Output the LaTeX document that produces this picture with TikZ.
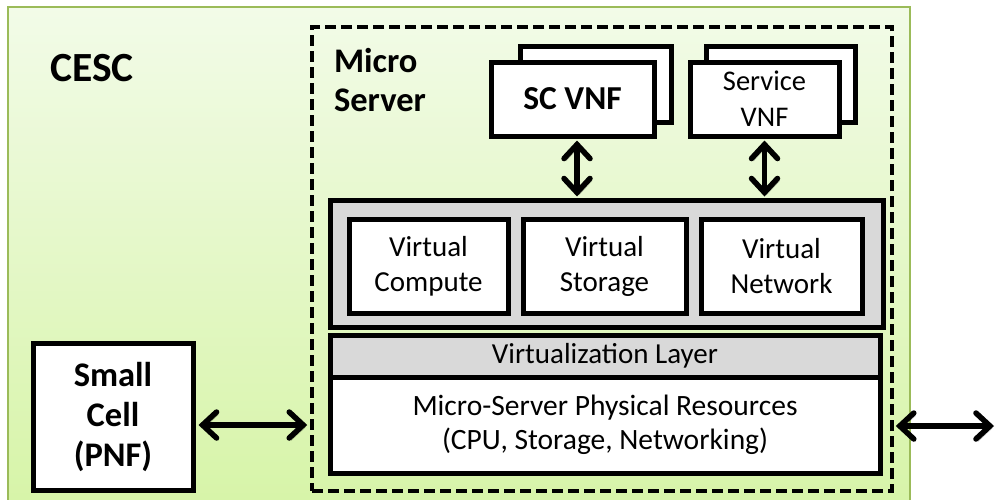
\documentclass[tikz,border=0pt]{standalone}
\usepackage{fontspec}
\setmainfont{Carlito}
\usetikzlibrary{arrows.meta}
\definecolor{gborder}{HTML}{9BBB59}
\definecolor{gtop}{HTML}{F2FBE8}
\definecolor{gbot}{HTML}{D6F4A6}
\definecolor{lgray}{HTML}{D9D9D9}
\tikzset{
  box/.style={draw=black, line width=5pt, fill=white, inner sep=0pt, align=center},
  graybox/.style={box, fill=lgray},
  dbl/.style={line width=5.5pt, {Straight Barb[length=14pt,width=26pt,line cap=round]}-{Straight Barb[length=14pt,width=26pt,line cap=round]}},
  shadowed/.style={preaction={draw=black, opacity=0.25, transform canvas={shift={(2pt,-2.5pt)}}}},
  big/.style={font=\fontsize{29}{35}\selectfont},
}
\begin{document}
\begin{tikzpicture}[x=1pt,y=-1pt]
\useasboundingbox (0,0) rectangle (995,499);
\begin{scope}
\clip (0,0) rectangle (995,499);
\shade[top color=gtop, bottom color=gbot, draw=gborder, line width=2.5pt] (8,7) rectangle (910,520);
\end{scope}
\node[draw=black, line width=3.5pt, dash pattern=on 11pt off 5pt, minimum width=580pt, minimum height=464pt, inner sep=0pt] (ms) at (602,259) {};
\node[font=\bfseries\fontsize{41.5}{47}\selectfont] (cesc) at (92,68) {CESC};
\node[font=\bfseries\fontsize{34.5}{39}\selectfont, align=left, inner sep=0pt] (mstext) at (380,80) {Micro\\Server};
% VNFs
\node[box, minimum width=151pt, minimum height=76pt] (scb) at (595.5,84) {};
\node[box, minimum width=163pt, minimum height=74pt, font=\bfseries\fontsize{33.5}{38}\selectfont] (scf) at (572.5,99) {SC VNF};
\node[box, minimum width=149pt, minimum height=76pt] (svb) at (780.5,84) {};
\node[box, minimum width=149pt, minimum height=74pt, font=\fontsize{28.5}{36}\selectfont] (svf) at (764.5,99) {Service\\VNF};
% virtual resources
\node[graybox, minimum width=553pt, minimum height=127pt] (gray) at (606.5,263.5) {};
\node[box, big, minimum width=159pt, minimum height=94pt] (vc) at (428.5,266) {Virtual\\Compute};
\node[box, big, minimum width=163pt, minimum height=94pt] (vs) at (604.5,266) {Virtual\\Storage};
\node[box, big, minimum width=161pt, minimum height=94pt] (vn) at (781.5,266) {Virtual\\Network};
% layers
\node[box, minimum width=550pt, minimum height=96pt, font=\fontsize{29.5}{34}\selectfont] (phys) at (605,425) {Micro-Server Physical Resources\\(CPU, Storage, Networking)};
\node[graybox, minimum width=550pt, minimum height=42pt, font=\fontsize{29}{32}\selectfont] (vl) at (605,356) {Virtualization Layer};
% small cell
\node[box, minimum width=160pt, minimum height=147pt, font=\bfseries\fontsize{34.5}{40}\selectfont] (sc) at (113,416.5) {Small\\Cell\\(PNF)};
\coordinate (out) at (995,426);
% arrows
\draw[dbl, shadowed] ([xshift=4.5pt,yshift=-2pt]scf.south) -- ([xshift=4.5pt,yshift=1pt]scf.south |- gray.north);
\draw[dbl, shadowed] ([yshift=-2pt]svf.south) -- ([yshift=1pt]svf.south |- gray.north);
\draw[dbl, shadowed] ([xshift=3pt]sc.east |- 0,425) -- ([xshift=-3pt]ms.west |- 0,425);
\draw[dbl, shadowed] ([xshift=2pt]ms.east |- out) -- ([xshift=-1pt]out);
\end{tikzpicture}
\end{document}
